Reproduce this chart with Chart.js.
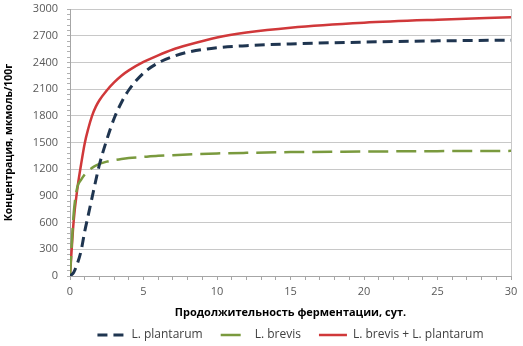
<!DOCTYPE html>
<html>
<head>
<meta charset="utf-8">
<script src="https://cdn.jsdelivr.net/npm/chart.js@4.4.1/dist/chart.umd.min.js"></script>
<style>
  html, body { margin: 0; padding: 0; background: #fff; }
  #wrap { width: 523px; height: 346px; }
</style>
</head>
<body>
<div id="wrap"><canvas id="fermChart"></canvas></div>
<script>
const days = [0, 0.25, 0.5, 0.75, 1, 1.25, 1.5, 1.75, 2, 2.5, 3, 3.5, 4, 5, 6, 7, 8, 10, 12, 15, 20, 25, 30];
const plantarum = [0, 40, 140, 280, 500, 690, 880, 1070, 1250, 1530, 1770, 1950, 2090, 2280, 2395, 2465, 2515, 2565, 2588, 2608, 2628, 2642, 2650];
const brevis = [0, 700, 1000, 1080, 1140, 1185, 1215, 1240, 1260, 1285, 1302, 1315, 1325, 1338, 1350, 1358, 1366, 1377, 1384, 1392, 1398, 1403, 1406];
const combined = [0, 620, 980, 1250, 1490, 1660, 1800, 1900, 1975, 2085, 2175, 2250, 2310, 2405, 2480, 2545, 2595, 2680, 2735, 2790, 2846, 2880, 2906];
const seriesNames = ['L. plantarum', 'L. brevis', 'L. brevis + L. plantarum'];
const xTitle = 'Продолжительность ферментации, сут.';
const yTitle = 'Концентрация, мкмоль/100г';

function toPoints(values) {
    return days.map(function(d, i) { return {x: d, y: values[i]}; });
}

const gridGray = '#C8C8C8';
const tickFont = {family: 'Open Sans', size: 11};

const chart = new Chart(document.getElementById('fermChart').getContext('2d'), {
    type: 'line',
    data: {
        datasets: [{
            label: seriesNames[0],
            data: toPoints(plantarum),
            borderColor: '#1F3550',
            borderWidth: 3,
            borderDash: [10, 6],
            pointRadius: 0,
            cubicInterpolationMode: 'monotone'
        }, {
            label: seriesNames[1],
            data: toPoints(brevis),
            borderColor: '#7A9A3E',
            borderWidth: 2.5,
            borderDash: [20, 8],
            pointRadius: 0,
            cubicInterpolationMode: 'monotone'
        }, {
            label: seriesNames[2],
            data: toPoints(combined),
            borderColor: '#D0383A',
            borderWidth: 2.5,
            pointRadius: 0,
            cubicInterpolationMode: 'monotone'
        }]
    },
    options: {
        responsive: true,
        maintainAspectRatio: false,
        animation: false,
        layout: { padding: { top: 9, right: 12, left: 0, bottom: -5 } },
        scales: {
            x: {
                type: 'linear',
                min: 0,
                max: 30,
                afterFit: function(scale) { scale.height = 35; },
                ticks: {
                    stepSize: 1,
                    autoSkip: false,
                    maxRotation: 0,
                    color: '#595959',
                    font: tickFont,
                    padding: 5,
                    callback: function(v) { return v % 5 === 0 ? v : ''; }
                },
                grid: {
                    color: function(ctx) { return ctx.tick && ctx.tick.value === 30 ? gridGray : 'rgba(0,0,0,0)'; },
                    tickColor: '#A6A6A6',
                    tickLength: 4
                },
                border: { color: '#A6A6A6' },
                title: {
                    display: true,
                    text: xTitle,
                    color: '#000',
                    font: {family: 'Open Sans', size: 11, weight: 'bold'},
                    padding: {top: 2, bottom: -8}
                }
            },
            y: {
                min: 0,
                max: 3000,
                afterFit: function(scale) {
                    scale.width = 70;
                    scale.paddingTop = 0;
                    scale.paddingBottom = 0;
                },
                ticks: {
                    stepSize: 60,
                    autoSkip: false,
                    color: '#595959',
                    font: tickFont,
                    padding: 9,
                    callback: function(v) { return v % 300 === 0 ? v : ''; }
                },
                grid: {
                    color: function(ctx) { return ctx.tick && ctx.tick.value % 300 === 0 ? gridGray : 'rgba(0,0,0,0)'; },
                    tickColor: '#B0B0B0',
                    tickLength: 3
                },
                border: { color: '#A6A6A6' },
                title: {
                    display: true,
                    text: yTitle,
                    color: '#000',
                    font: {family: 'Open Sans', size: 10.5, weight: 'bold'},
                    padding: {top: 3, bottom: 2}
                }
            }
        },
        plugins: {
            legend: {
                position: 'bottom',
                fullSize: false,
                labels: {
                    usePointStyle: true,
                    pointStyle: 'line',
                    pointStyleWidth: 28,
                    boxHeight: 6,
                    color: '#404040',
                    font: {family: 'Open Sans', size: 12},
                    padding: 18,
                    generateLabels: function(c) {
                        const items = Chart.defaults.plugins.legend.labels.generateLabels(c);
                        items.forEach(function(item) {
                            const ds = c.data.datasets[item.datasetIndex];
                            item.lineDash = ds.borderDash || [];
                            item.lineWidth = ds.borderWidth;
                            item.strokeStyle = ds.borderColor;
                        });
                        return items;
                    }
                }
            },
            tooltip: { enabled: false }
        }
    }
});
</script>
</body>
</html>
